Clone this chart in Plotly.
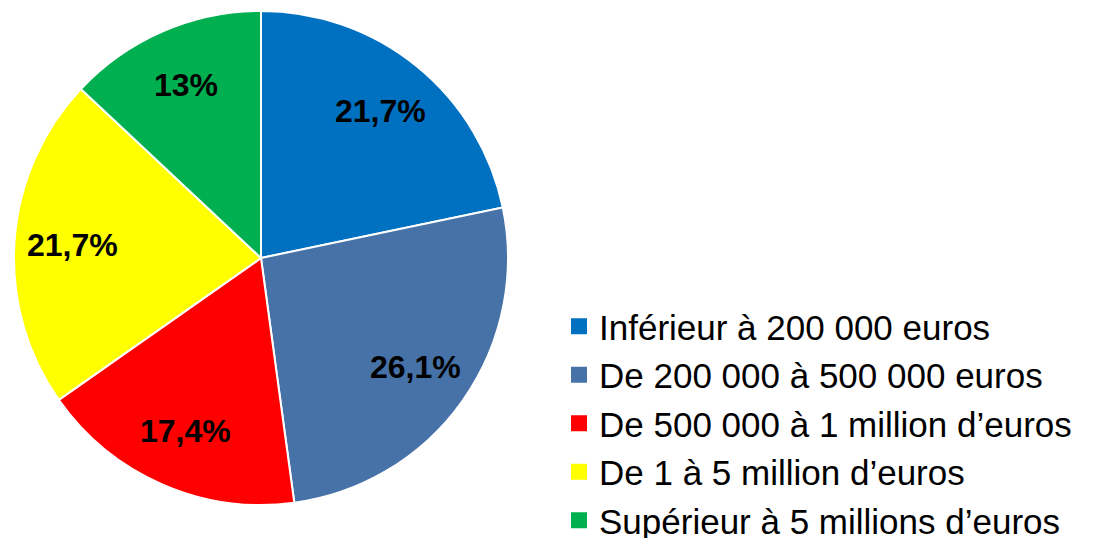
import math
import plotly.graph_objects as go

labels = [
    "Inférieur à 200 000 euros",
    "De 200 000 à 500 000 euros",
    "De 500 000 à 1 million d’euros",
    "De 1 à 5 million d’euros",
    "Supérieur à 5 millions d’euros",
]
values = [21.7, 26.1, 17.4, 21.7, 13]
colors = ["#0070C0", "#4672A8", "#FF0000", "#FFFF00", "#00B050"]


def fmt(v):
    return ("%g" % v).replace(".", ",") + "%"


texts = [fmt(v) for v in values]

W, H = 1107, 538
CX, CY, R = 261, 258, 247  # pie centre / radius in pixels

fig = go.Figure()
fig.add_trace(go.Pie(
    labels=labels,
    values=values,
    textinfo="none",
    sort=False,
    direction="clockwise",
    rotation=0,
    showlegend=False,
    marker=dict(colors=colors, line=dict(color="white", width=2)),
    domain=dict(x=[(CX - R) / W, (CX + R) / W], y=[(H - CY - R) / H, (H - CY + R) / H]),
    hoverinfo="label+percent",
))

# legend entries (square swatches)
for lab, col in zip(labels, colors):
    fig.add_trace(go.Scatter(
        x=[None], y=[None], mode="markers", name=lab,
        marker=dict(symbol="square", size=16, color=col),
        showlegend=True, hoverinfo="skip",
    ))

# percentage labels placed at slice mid-angles
total = sum(values)
cum = 0.0
for v, t in zip(values, texts):
    mid = (cum + v / 2) / total * 2 * math.pi
    cum += v
    f = 0.765
    px = CX + f * R * math.sin(mid)
    py = CY - f * R * math.cos(mid)
    fig.add_annotation(
        x=px / W, y=(H - py) / H, xref="paper", yref="paper",
        text="<b>%s</b>" % t, showarrow=False,
        xanchor="center", yanchor="middle",
        font=dict(family="Liberation Sans", size=32, color="black"),
    )

fig.update_layout(
    width=W, height=H,
    margin=dict(l=0, r=0, t=0, b=0, autoexpand=False),
    paper_bgcolor="white",
    plot_bgcolor="white",
    xaxis=dict(visible=False),
    yaxis=dict(visible=False),
    showlegend=True,
    legend=dict(
        x=559 / W, xanchor="left",
        y=(H - 297) / H, yanchor="top",
        font=dict(family="Liberation Sans", size=35, color="black"),
        bgcolor="rgba(0,0,0,0)",
        traceorder="normal",
        itemsizing="trace",
    ),
)

fig.write_html(
    "out.html",
    config={"displayModeBar": False},
    post_script="document.body.style.margin='0';document.body.style.overflow='hidden';",
)
